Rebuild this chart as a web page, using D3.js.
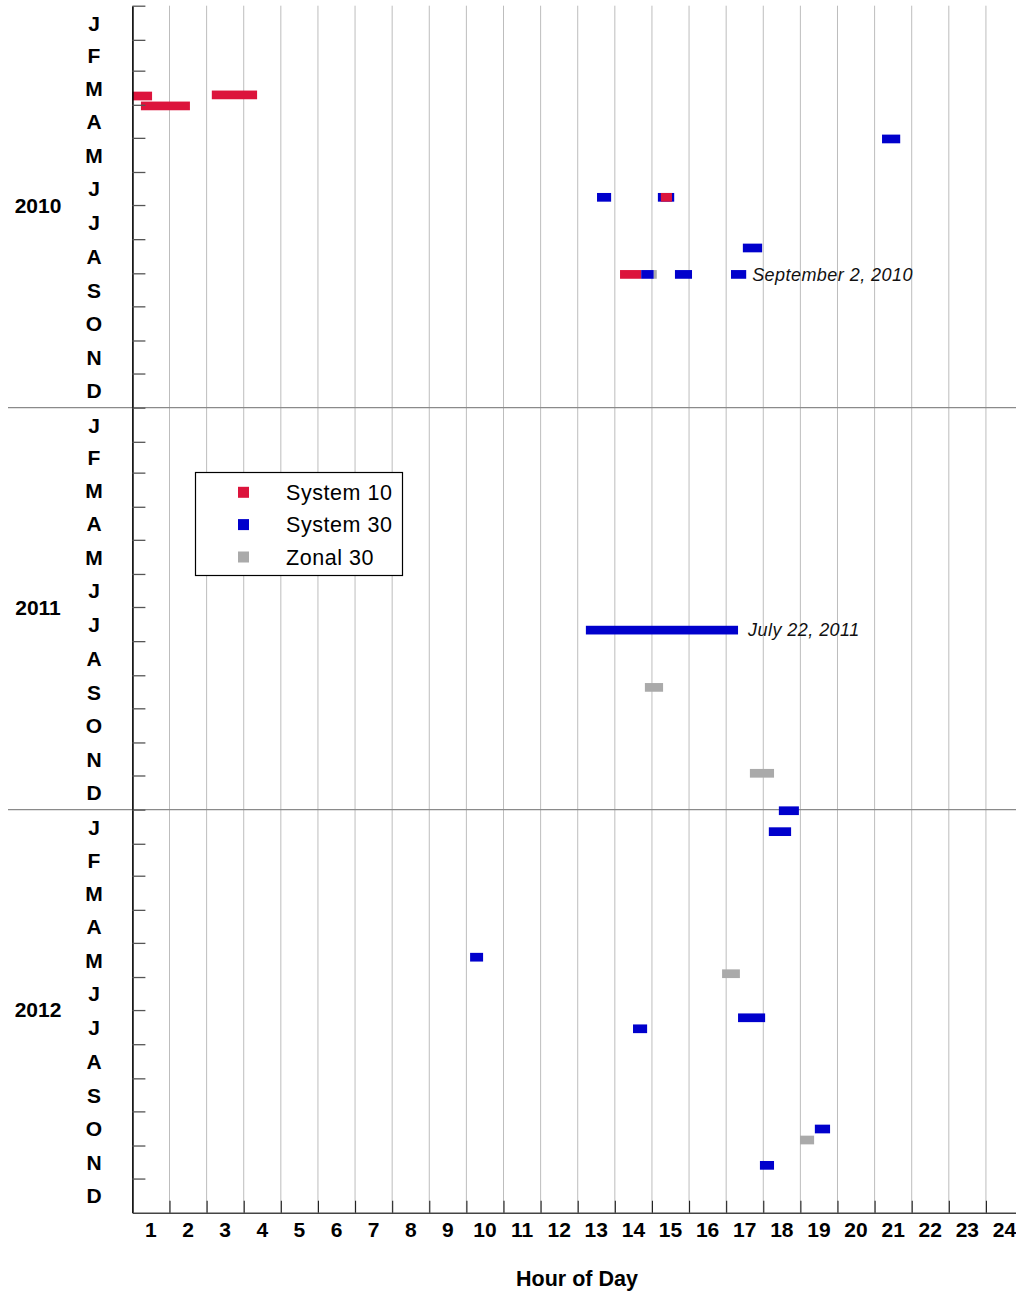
<!DOCTYPE html>
<html>
<head>
<meta charset="utf-8">
<script src="https://cdn.jsdelivr.net/npm/d3@7"></script>
<style>
  html, body { margin: 0; padding: 0; background: #fff; }
  svg { display: block; font-family: "Liberation Sans", Arial, sans-serif; }
</style>
</head>
<body>
<svg id="chart" width="1016" height="1293"></svg>
<script>
// ---------------- data ----------------
const seriesNames = ["System 10", "System 30", "Zonal 30"];
const seriesColors = ["#DC143C", "#0000CC", "#AAAAAA"];

const years = [2010, 2011, 2012];
const monthLetters = ["J", "F", "M", "A", "M", "J", "J", "A", "S", "O", "N", "D"];
const hourLabels = d3.range(1, 25);

// events: date, start hour, end hour, series index (drawn in this order)
const eventDates = [
  "2010-03-24", "2010-04-02", "2010-03-23", "2010-05-02",
  "2010-06-24", "2010-06-24", "2010-06-24", "2010-08-09",
  "2010-09-02", "2010-09-02", "2010-09-02", "2010-09-02", "2010-09-02",
  "2011-07-22", "2011-09-12", "2011-11-29",
  "2012-01-02", "2012-01-21", "2012-05-14", "2012-05-29",
  "2012-07-08", "2012-07-18", "2012-10-17", "2012-10-27", "2012-11-19"
];
const eventStart = [
  0.00, 0.23, 2.14, 20.20,
  12.52, 14.16, 14.24, 16.45,
  13.14, 13.71, 14.05, 14.62, 16.13,
  12.22, 13.81, 16.64,
  17.42, 17.15, 9.10, 15.89,
  16.32, 13.49, 18.39, 17.99, 16.91
];
const eventEnd = [
  0.53, 1.55, 3.36, 20.69,
  12.90, 14.60, 14.54, 16.97,
  13.71, 14.05, 14.13, 15.08, 16.54,
  16.32, 14.30, 17.29,
  17.96, 17.75, 9.45, 16.37,
  17.05, 13.87, 18.80, 18.37, 17.29
];
const eventSeries = [
  0, 0, 0, 1,
  1, 1, 0, 1,
  0, 1, 2, 1, 1,
  1, 2, 2,
  1, 1, 1, 2,
  1, 1, 1, 2, 1
];

const annotationText = ["September 2, 2010", "July 22, 2011"];
const annotationDate = ["2010-09-02", "2011-07-22"];
const annotationHour = [16.70, 16.59];

// ---------------- layout ----------------
const svg = d3.select("#chart");
const W = 1016;
const plotLeft = 132.4, plotTop = 5.7, plotBottom = 1212.7;
const hourW = 37.11;
const parse = d3.utcParse("%Y-%m-%d");

const x = d3.scaleLinear().domain([0, 24]).range([plotLeft, plotLeft + 24 * hourW]);
const y = d3.scaleUtc()
  .domain([Date.UTC(2010, 0, 1), Date.UTC(2013, 0, 1)])
  .range([plotTop, plotBottom]);

const color = d3.scaleOrdinal().domain(d3.range(seriesNames.length)).range(seriesColors);

// gridlines
svg.append("g").selectAll("line").data(d3.range(1, 25)).join("line")
  .attr("x1", d => x(d)).attr("x2", d => x(d))
  .attr("y1", plotTop).attr("y2", plotBottom)
  .attr("stroke", "#bdbdbd").attr("stroke-width", 1);

// year separators
svg.append("g").selectAll("line").data(years.slice(1)).join("line")
  .attr("x1", 8).attr("x2", W)
  .attr("y1", d => y(Date.UTC(d, 0, 1))).attr("y2", d => y(Date.UTC(d, 0, 1)))
  .attr("stroke", "#8a8a8a").attr("stroke-width", 1.3);

// bars
const barH = 8.7;
const events = eventDates.map((d, i) => ({
  date: parse(d), s: eventStart[i], e: eventEnd[i], k: eventSeries[i]
}));
svg.append("g").selectAll("rect").data(events).join("rect")
  .attr("x", d => x(d.s))
  .attr("width", d => x(d.e) - x(d.s))
  .attr("y", d => y(d.date) - barH / 2)
  .attr("height", barH)
  .attr("fill", d => color(d.k));

// annotations
svg.append("g").selectAll("text").data(annotationText).join("text")
  .attr("x", (d, i) => x(annotationHour[i]))
  .attr("y", (d, i) => y(parse(annotationDate[i])) + 6.3)
  .attr("font-size", 18).attr("letter-spacing", 0.45)
  .attr("font-style", "italic").attr("fill", "#111")
  .text(d => d);

// left axis (ticks at month starts, pointing right)
const monthStarts = d3.utcMonth.range(Date.UTC(2010, 0, 1), Date.UTC(2013, 0, 1));
const yAxis = svg.append("g").attr("transform", `translate(${plotLeft},0)`)
  .call(d3.axisRight(y).tickValues(monthStarts).tickSize(13).tickSizeOuter(0).tickFormat(""));
yAxis.select(".domain").attr("stroke", "#000").attr("stroke-width", 1.6);
yAxis.selectAll(".tick line").attr("stroke", "#555").attr("stroke-width", 1.3);

// month labels
const monthMids = [];
years.forEach(yr => {
  for (let m = 0; m < 12; m++) {
    const a = Date.UTC(yr, m, 1), b = Date.UTC(yr, m + 1, 1);
    monthMids.push({ t: (a + b) / 2, label: monthLetters[m] });
  }
});
svg.append("g").selectAll("text").data(monthMids).join("text")
  .attr("x", 94).attr("y", d => y(d.t) + 7.8)
  .attr("text-anchor", "middle").attr("font-size", 21).attr("font-weight", "bold")
  .text(d => d.label);

// year labels
svg.append("g").selectAll("text").data(years).join("text")
  .attr("x", 38).attr("y", d => y((Date.UTC(d, 0, 1) + Date.UTC(d + 1, 0, 1)) / 2) + 6)
  .attr("text-anchor", "middle").attr("font-size", 21).attr("font-weight", "bold")
  .text(d => d);

// bottom axis (ticks pointing up, labels centered in each hour)
const xAxis = svg.append("g").attr("transform", `translate(0,${plotBottom})`)
  .call(d3.axisBottom(x).tickValues(d3.range(1, 25)).tickSizeInner(-12).tickSizeOuter(0).tickFormat(""));
xAxis.select(".domain").attr("stroke", "#444").attr("stroke-width", 1.6);
xAxis.selectAll(".tick line").attr("stroke", "#222").attr("stroke-width", 1.1);

svg.append("g").selectAll("text").data(hourLabels).join("text")
  .attr("x", d => x(d - 0.5)).attr("y", 1236.5)
  .attr("text-anchor", "middle").attr("font-size", 21).attr("font-weight", "bold")
  .text(d => d);

svg.append("text").attr("x", 577).attr("y", 1286)
  .attr("text-anchor", "middle").attr("font-size", 21.5).attr("font-weight", "bold")
  .text("Hour of Day");

// legend
const lg = svg.append("g");
lg.append("rect").attr("x", 195.5).attr("y", 472.5).attr("width", 207).attr("height", 103)
  .attr("fill", "#fff").attr("stroke", "#000").attr("stroke-width", 1.2);
const lgY = [492.3, 524.6, 557];
seriesNames.forEach((name, i) => {
  lg.append("rect").attr("x", 238).attr("y", lgY[i] - 5.5).attr("width", 11).attr("height", 11)
    .attr("fill", seriesColors[i]);
  lg.append("text").attr("x", 286).attr("y", lgY[i] + 7.5)
    .attr("font-size", 21.5).attr("letter-spacing", 0.55).attr("fill", "#000").text(name);
});
</script>
</body>
</html>
